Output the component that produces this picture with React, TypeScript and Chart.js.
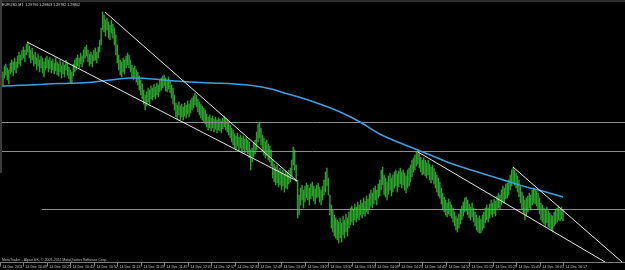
import React, { useEffect, useRef } from 'react';
import { Chart, registerables } from 'chart.js';

Chart.register(...registerables);

const symbolTitle = 'EURUSD,M1  1.29790 1.29803 1.29782 1.29802';
const copyrightText = 'MetaTrader - Alpari UK, \u00A9 2001-2011 MetaQuotes Software Corp.';

// one label every 16 one-minute bars, first bar = 09:53
const timeLabels = [
  '14 Dec 2011', '14 Dec 10:09', '14 Dec 10:25', '14 Dec 10:41', '14 Dec 10:57',
  '14 Dec 11:13', '14 Dec 11:29', '14 Dec 11:45', '14 Dec 12:01', '14 Dec 12:17',
  '14 Dec 12:33', '14 Dec 12:49', '14 Dec 13:05', '14 Dec 13:21', '14 Dec 13:37',
  '14 Dec 13:53', '14 Dec 14:09', '14 Dec 14:25', '14 Dec 14:41', '14 Dec 14:57',
  '14 Dec 15:13', '14 Dec 15:29', '14 Dec 15:45', '14 Dec 16:01', '14 Dec 16:17',
];
const labelStep = 16;

const barHighs = [
  1.30084,1.30088,1.30080,1.30092,1.30096,1.30088,1.30084,1.30098,1.30104,1.30100,
  1.30108,1.30100,1.30112,1.30120,1.30114,1.30124,1.30130,1.30124,1.30136,1.30140,
  1.30132,1.30124,1.30128,1.30114,1.30120,1.30108,1.30116,1.30104,1.30112,1.30108,
  1.30100,1.30108,1.30112,1.30104,1.30110,1.30102,1.30106,1.30098,1.30108,1.30100,
  1.30096,1.30104,1.30092,1.30100,1.30094,1.30104,1.30098,1.30090,1.30084,1.30080,
  1.30096,1.30104,1.30108,1.30114,1.30108,1.30118,1.30112,1.30124,1.30130,1.30134,
  1.30124,1.30116,1.30120,1.30114,1.30124,1.30128,1.30120,1.30130,1.30144,1.30168,
  1.30200,1.30194,1.30184,1.30188,1.30180,1.30174,1.30184,1.30176,1.30168,1.30154,
  1.30134,1.30114,1.30104,1.30100,1.30108,1.30104,1.30112,1.30118,1.30114,1.30104,
  1.30094,1.30088,1.30092,1.30084,1.30080,1.30072,1.30064,1.30056,1.30044,1.30034,
  1.30040,1.30048,1.30044,1.30052,1.30048,1.30056,1.30050,1.30058,1.30054,1.30064,
  1.30068,1.30072,1.30074,1.30068,1.30064,1.30070,1.30064,1.30054,1.30048,1.30034,
  1.30018,1.30014,1.30020,1.30012,1.30016,1.30010,1.30018,1.30014,1.30022,1.30016,
  1.30024,1.30028,1.30032,1.30038,1.30034,1.30026,1.30020,1.30016,1.30012,1.30008,
  1.30004,1.29996,1.29990,1.29994,1.29988,1.29992,1.29986,1.29990,1.29984,1.29988,
  1.29986,1.29982,1.29988,1.29992,1.29988,1.29984,1.29980,1.29974,1.29968,1.29964,
  1.29956,1.29952,1.29958,1.29950,1.29954,1.29948,1.29952,1.29946,1.29950,1.29944,
  1.29940,1.29924,1.29928,1.29938,1.29944,1.29960,1.29976,1.29980,1.29968,1.29954,
  1.29948,1.29940,1.29944,1.29936,1.29932,1.29924,1.29904,1.29896,1.29890,1.29894,
  1.29884,1.29888,1.29880,1.29884,1.29876,1.29882,1.29878,1.29884,1.29888,1.29904,
  1.29930,1.29924,1.29894,1.29864,1.29834,1.29848,1.29854,1.29844,1.29852,1.29858,
  1.29854,1.29848,1.29856,1.29860,1.29852,1.29846,1.29854,1.29858,1.29850,1.29844,
  1.29852,1.29864,1.29880,1.29888,1.29868,1.29834,1.29814,1.29804,1.29794,1.29788,
  1.29784,1.29780,1.29788,1.29778,1.29792,1.29784,1.29796,1.29788,1.29800,1.29808,
  1.29812,1.29804,1.29816,1.29810,1.29820,1.29814,1.29824,1.29818,1.29828,1.29822,
  1.29832,1.29826,1.29836,1.29844,1.29838,1.29848,1.29852,1.29844,1.29856,1.29864,
  1.29884,1.29890,1.29874,1.29868,1.29860,1.29872,1.29878,1.29868,1.29874,1.29880,
  1.29884,1.29876,1.29882,1.29888,1.29880,1.29884,1.29878,1.29872,1.29884,1.29888,
  1.29894,1.29904,1.29908,1.29914,1.29920,1.29924,1.29918,1.29910,1.29904,1.29908,
  1.29904,1.29898,1.29904,1.29896,1.29890,1.29894,1.29888,1.29880,1.29874,1.29868,
  1.29860,1.29848,1.29838,1.29830,1.29824,1.29818,1.29826,1.29820,1.29814,1.29808,
  1.29800,1.29792,1.29788,1.29796,1.29804,1.29812,1.29820,1.29828,1.29830,1.29824,
  1.29816,1.29810,1.29818,1.29808,1.29800,1.29794,1.29788,1.29792,1.29786,1.29794,
  1.29800,1.29808,1.29814,1.29808,1.29816,1.29824,1.29818,1.29826,1.29822,1.29832,
  1.29838,1.29834,1.29844,1.29852,1.29848,1.29856,1.29858,1.29864,1.29874,1.29884,
  1.29890,1.29884,1.29878,1.29872,1.29864,1.29852,1.29840,1.29832,1.29824,1.29828,
  1.29832,1.29838,1.29834,1.29844,1.29848,1.29846,1.29842,1.29838,1.29828,1.29818,
  1.29814,1.29808,1.29804,1.29810,1.29802,1.29798,1.29794,1.29792,1.29800,1.29804,
  1.29808,1.29812,1.29806,1.29810,1.29803,
];

const barLows = [
  1.30060,1.30064,1.30054,1.30068,1.30074,1.30064,1.30056,1.30076,1.30080,1.30072,
  1.30084,1.30078,1.30088,1.30096,1.30092,1.30104,1.30108,1.30100,1.30114,1.30120,
  1.30108,1.30098,1.30104,1.30092,1.30096,1.30084,1.30092,1.30080,1.30088,1.30078,
  1.30070,1.30084,1.30088,1.30080,1.30086,1.30078,1.30084,1.30076,1.30082,1.30074,
  1.30072,1.30080,1.30068,1.30076,1.30070,1.30084,1.30074,1.30066,1.30058,1.30056,
  1.30072,1.30080,1.30084,1.30092,1.30088,1.30096,1.30090,1.30100,1.30108,1.30112,
  1.30100,1.30092,1.30096,1.30090,1.30102,1.30104,1.30098,1.30108,1.30120,1.30134,
  1.30164,1.30160,1.30152,1.30164,1.30148,1.30144,1.30158,1.30148,1.30134,1.30114,
  1.30098,1.30084,1.30074,1.30070,1.30080,1.30076,1.30088,1.30094,1.30088,1.30080,
  1.30068,1.30064,1.30070,1.30060,1.30054,1.30044,1.30034,1.30026,1.30016,1.30004,
  1.30012,1.30020,1.30016,1.30026,1.30024,1.30030,1.30026,1.30034,1.30030,1.30040,
  1.30044,1.30048,1.30052,1.30042,1.30040,1.30046,1.30038,1.30028,1.30016,1.30004,
  1.29990,1.29986,1.29994,1.29984,1.29990,1.29984,1.29992,1.29988,1.29996,1.29990,
  1.29998,1.30004,1.30008,1.30014,1.30010,1.30000,1.29994,1.29988,1.29984,1.29980,
  1.29976,1.29970,1.29964,1.29968,1.29962,1.29968,1.29960,1.29966,1.29958,1.29964,
  1.29962,1.29958,1.29966,1.29970,1.29964,1.29960,1.29954,1.29948,1.29940,1.29934,
  1.29928,1.29924,1.29932,1.29922,1.29928,1.29920,1.29926,1.29918,1.29924,1.29916,
  1.29908,1.29884,1.29900,1.29910,1.29916,1.29924,1.29940,1.29948,1.29934,1.29920,
  1.29914,1.29908,1.29912,1.29904,1.29900,1.29892,1.29868,1.29860,1.29854,1.29858,
  1.29850,1.29854,1.29844,1.29852,1.29840,1.29848,1.29846,1.29856,1.29860,1.29872,
  1.29894,1.29884,1.29860,1.29788,1.29794,1.29814,1.29824,1.29808,1.29820,1.29828,
  1.29824,1.29814,1.29826,1.29832,1.29822,1.29816,1.29828,1.29830,1.29820,1.29814,
  1.29824,1.29834,1.29840,1.29852,1.29834,1.29794,1.29768,1.29760,1.29752,1.29748,
  1.29744,1.29738,1.29748,1.29740,1.29754,1.29748,1.29760,1.29752,1.29768,1.29774,
  1.29780,1.29774,1.29784,1.29780,1.29788,1.29784,1.29794,1.29788,1.29796,1.29792,
  1.29800,1.29796,1.29806,1.29812,1.29808,1.29816,1.29824,1.29814,1.29828,1.29832,
  1.29844,1.29854,1.29834,1.29830,1.29824,1.29836,1.29844,1.29832,1.29840,1.29848,
  1.29852,1.29840,1.29850,1.29856,1.29848,1.29854,1.29844,1.29838,1.29848,1.29852,
  1.29860,1.29870,1.29880,1.29884,1.29892,1.29896,1.29888,1.29880,1.29874,1.29876,
  1.29872,1.29868,1.29874,1.29864,1.29858,1.29864,1.29856,1.29848,1.29840,1.29832,
  1.29828,1.29816,1.29804,1.29800,1.29794,1.29790,1.29796,1.29792,1.29788,1.29780,
  1.29772,1.29764,1.29760,1.29768,1.29776,1.29784,1.29792,1.29800,1.29802,1.29794,
  1.29788,1.29784,1.29790,1.29780,1.29772,1.29764,1.29760,1.29758,1.29758,1.29764,
  1.29768,1.29778,1.29784,1.29780,1.29788,1.29794,1.29790,1.29796,1.29792,1.29804,
  1.29808,1.29804,1.29814,1.29820,1.29818,1.29826,1.29828,1.29834,1.29844,1.29852,
  1.29860,1.29854,1.29848,1.29840,1.29830,1.29818,1.29804,1.29796,1.29784,1.29792,
  1.29800,1.29808,1.29804,1.29814,1.29818,1.29816,1.29812,1.29806,1.29796,1.29784,
  1.29780,1.29776,1.29772,1.29778,1.29770,1.29768,1.29764,1.29760,1.29772,1.29776,
  1.29780,1.29784,1.29782,1.29786,1.29782,
];

// moving average (bar index, price)
const maBars = [0, 20, 40, 60, 75, 88, 100, 115, 130, 145, 160, 172, 185, 195, 205, 218, 232, 245, 259, 273, 285, 296, 305, 318, 328, 339, 350, 360, 370, 384];
const maValues = [
  1.30052, 1.30054, 1.30057, 1.30059, 1.30064, 1.30068, 1.30067, 1.30063, 1.30060, 1.30058,
  1.30056, 1.30053, 1.30046, 1.30037, 1.30029, 1.30016, 1.30000, 1.29981, 1.29956, 1.29938,
  1.29924, 1.29911, 1.29900, 1.29887, 1.29878, 1.29868, 1.29858, 1.29849, 1.29842, 1.29830,
];

// horizontal price lines
const hLevels = [1.29979, 1.29921, 1.29805];
const hStartBars = [0, 0, 28.6];

// trend lines: start bar, start price, end bar, end price
const trendStartBar = [18.4, 71.6, 285.1, 349.9];
const trendStartPrice = [1.30140, 1.30200, 1.29920, 1.29890];
const trendEndBar = [202.6, 202.6, 412.7, 424.3];
const trendEndPrice = [1.29862, 1.29862, 1.29700, 1.29700];

const X_MIN = 0;
const X_MAX = 426.3;
const Y_MIN = 1.297;
const Y_MAX = 1.3022;

const FONT = '"Liberation Sans", Arial, sans-serif';

const mtPlugin = {
  id: 'mtDecor',
  beforeDraw(chart: any) {
    const { ctx, width, height } = chart;
    ctx.save();
    ctx.fillStyle = '#000000';
    ctx.fillRect(0, 0, width, height);
    ctx.restore();
  },
  afterDraw(chart: any) {
    const { ctx, width, chartArea } = chart;
    const xs = chart.scales.x;
    ctx.save();
    // window frame
    ctx.fillStyle = '#2c2c2c';
    ctx.fillRect(0, 0, width, 2);
    ctx.fillStyle = '#3a3a3a';
    ctx.fillRect(0, 0, 2, 173);
    // axis line
    const axY = Math.round(chartArea.bottom) + 0.5;
    ctx.strokeStyle = '#7c7c7c';
    ctx.lineWidth = 1;
    ctx.beginPath();
    ctx.moveTo(0, axY);
    ctx.lineTo(width, axY);
    ctx.stroke();
    // time labels and separators
    ctx.font = `3.6px ${FONT}`;
    ctx.fillStyle = '#c4c4c4';
    ctx.textBaseline = 'middle';
    ctx.textAlign = 'left';
    timeLabels.forEach((lab, k) => {
      const px = Math.round(xs.getPixelForValue(k * labelStep)) + 0.5;
      ctx.beginPath();
      ctx.moveTo(px, axY);
      ctx.lineTo(px, axY + 4);
      ctx.stroke();
      ctx.fillText(lab, px + 2, axY + 4.5);
    });
    // copyright and header
    ctx.fillStyle = '#bdbdbd';
    ctx.fillText(copyrightText, 2, chartArea.bottom - 2.5);
    ctx.fillStyle = '#d8d8d8';
    ctx.fillText(symbolTitle, 2, 4.5);
    ctx.restore();
  },
};

export default function App() {
  const canvasRef = useRef<HTMLCanvasElement | null>(null);

  useEffect(() => {
    document.body.style.margin = '0';
    document.body.style.background = '#000';
    const canvas = canvasRef.current;
    if (!canvas) return;

    const bars = barHighs.map((h, i) => ({ x: i, y: [barLows[i], h] }));
    const ma = maBars.map((b, i) => ({ x: b, y: maValues[i] }));

    const datasets: any[] = [];
    trendStartBar.forEach((s, i) => {
      datasets.push({
        type: 'line',
        data: [
          { x: s, y: trendStartPrice[i] },
          { x: trendEndBar[i], y: trendEndPrice[i] },
        ],
        borderColor: '#e4e4e4',
        borderWidth: 1,
        pointRadius: 0,
        tension: 0,
        order: 0,
      });
    });
    datasets.push({
      type: 'line',
      data: ma,
      borderColor: '#3ca0dc',
      borderWidth: 1.5,
      pointRadius: 0,
      tension: 0.4,
      order: 1,
    });
    hLevels.forEach((lvl, i) => {
      datasets.push({
        type: 'line',
        data: [
          { x: hStartBars[i], y: lvl },
          { x: X_MAX, y: lvl },
        ],
        borderColor: '#8e8e8e',
        borderWidth: 1,
        pointRadius: 0,
        tension: 0,
        order: 2,
      });
    });
    datasets.push({
      type: 'bar',
      data: bars,
      backgroundColor: '#2c9e2c',
      borderWidth: 0,
      barThickness: 0.8,
      grouped: false,
      order: 3,
    });

    const chart = new Chart(canvas, {
      type: 'bar',
      data: { datasets },
      options: {
        responsive: false,
        animation: false,
        devicePixelRatio: 1,
        layout: { padding: { top: 2, bottom: 8, left: 0, right: 0 } },
        scales: {
          x: { type: 'linear', display: false, offset: false, min: X_MIN, max: X_MAX },
          y: { type: 'linear', display: false, min: Y_MIN, max: Y_MAX },
        },
        plugins: {
          legend: { display: false },
          tooltip: { enabled: false },
        },
        events: [],
      },
      plugins: [mtPlugin],
    } as any);

    return () => chart.destroy();
  }, []);

  return (
    <div style={{ width: 625, height: 270, background: '#000' }}>
      <canvas ref={canvasRef} width={625} height={270} style={{ display: 'block' }} />
    </div>
  );
}
